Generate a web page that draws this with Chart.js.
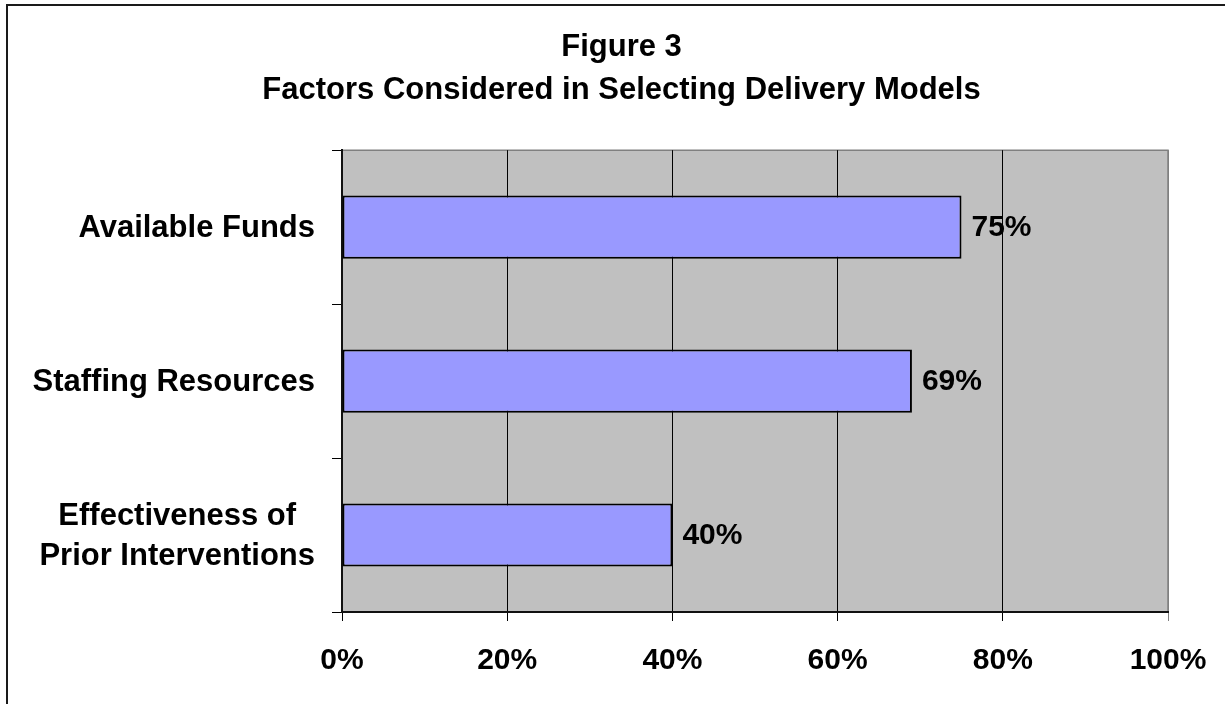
<!DOCTYPE html>
<html>
<head>
<meta charset="utf-8">
<title>Factors Considered in Selecting Delivery Models</title>
<script src="https://cdn.jsdelivr.net/npm/chart.js@4/dist/chart.umd.min.js"></script>
<style>
  html, body { margin: 0; padding: 0; background: #fff; }
  #wrap { width: 1225px; height: 704px; }
</style>
</head>
<body>
<div id="wrap"><canvas id="factorsChart" width="1225" height="704"></canvas></div>
<script>
const titleLines = ["Figure 3", "Factors Considered in Selecting Delivery Models"];
const categories = [
  "Available Funds",
  "Staffing Resources",
  ["Effectiveness of", "Prior Interventions"],
];
const shares = [75, 69, 40]; // percent of respondents
const percentTicks = [0, 20, 40, 60, 80, 100];

const FONT = "'Liberation Sans', Arial, Helvetica, sans-serif";

// white page, grey plot area and the frame around the figure
const backdrop = {
  id: "backdrop",
  beforeDraw(chart) {
    const { ctx, chartArea: a } = chart;
    ctx.save();
    ctx.fillStyle = "#fff";
    ctx.fillRect(0, 0, chart.width, chart.height);
    ctx.strokeStyle = "#1a1a1a";
    ctx.lineWidth = 2;
    ctx.strokeRect(7, 5, chart.width + 20, chart.height + 20);
    ctx.fillStyle = "#c0c0c0";
    ctx.fillRect(a.left, a.top, a.right - a.left, a.bottom - a.top);
    ctx.strokeStyle = "#808080";
    ctx.lineWidth = 1.5;
    ctx.beginPath();
    ctx.moveTo(a.left, a.top);
    ctx.lineTo(a.right, a.top);
    ctx.lineTo(a.right, a.bottom);
    ctx.stroke();
    ctx.restore();
  },
};

// percentage printed just past the end of each bar
const valueLabels = {
  id: "valueLabels",
  afterDatasetsDraw(chart) {
    const { ctx } = chart;
    const bars = chart.getDatasetMeta(0).data;
    ctx.save();
    ctx.font = "bold 30px " + FONT;
    ctx.fillStyle = "#000";
    ctx.textAlign = "left";
    ctx.textBaseline = "middle";
    bars.forEach((bar, i) => {
      ctx.fillText(shares[i] + "%", bar.x + 10, bar.y + 1);
    });
    ctx.restore();
  },
};

// category names: block right-aligned to the axis, lines centred on each other
const categoryLabels = {
  id: "categoryLabels",
  afterDraw(chart) {
    const { ctx } = chart;
    const yScale = chart.scales.y;
    const right = chart.chartArea.left - 27;
    const lineGap = 40;
    ctx.save();
    ctx.font = "bold 31px " + FONT;
    ctx.fillStyle = "#000";
    ctx.textAlign = "center";
    ctx.textBaseline = "middle";
    categories.forEach((label, i) => {
      const lines = Array.isArray(label) ? label : [label];
      const widest = Math.max(...lines.map((l) => ctx.measureText(l).width));
      const cx = right - widest / 2;
      const cy = yScale.getPixelForValue(i) + 1;
      lines.forEach((line, j) => {
        ctx.fillText(line, cx, cy + (j - (lines.length - 1) / 2) * lineGap);
      });
    });
    ctx.restore();
  },
};

new Chart(document.getElementById("factorsChart"), {
  type: "bar",
  data: {
    labels: categories,
    datasets: [
      {
        data: shares,
        backgroundColor: "#9999ff",
        borderColor: "#000",
        borderWidth: 2,
        borderSkipped: false,
        categoryPercentage: 1,
        barPercentage: 0.41,
      },
    ],
  },
  options: {
    indexAxis: "y",
    responsive: false,
    animation: false,
    events: [],
    layout: { padding: { left: 75, right: 57, top: 0, bottom: 0 } },
    plugins: {
      legend: { display: false },
      tooltip: { enabled: false },
      title: {
        display: true,
        text: titleLines,
        color: "#000",
        font: { family: FONT, size: 31, weight: "bold", lineHeight: 1.39 },
        padding: { top: 26, bottom: 38 },
      },
    },
    scales: {
      x: {
        type: "linear",
        min: 0,
        max: 100,
        afterBuildTicks: (scale) => {
          scale.ticks = percentTicks.map((v) => ({ value: v }));
        },
        afterFit: (scale) => {
          scale.height = 92;
        },
        ticks: {
          callback: (v) => v + "%",
          color: "#000",
          // taller line box pushes the labels down without widening the side padding
          font: { family: FONT, size: 30, weight: "bold", lineHeight: 1.47 },
          padding: 18,
          maxRotation: 0,
        },
        grid: {
          color: (c) => (c.tick && c.tick.value === 100 ? "#808080" : "#000"),
          lineWidth: 1,
          tickLength: 9,
          drawOnChartArea: true,
        },
        border: { color: "#111", width: 2 },
      },
      y: {
        type: "category",
        offset: true,
        afterFit: (scale) => {
          scale.width = 267;
        },
        ticks: { display: false },
        grid: {
          offset: true,
          drawOnChartArea: false,
          tickLength: 10,
          color: "#000",
          lineWidth: 1,
        },
        border: { color: "#111", width: 2 },
      },
    },
  },
  plugins: [backdrop, valueLabels, categoryLabels],
});
</script>
</body>
</html>
